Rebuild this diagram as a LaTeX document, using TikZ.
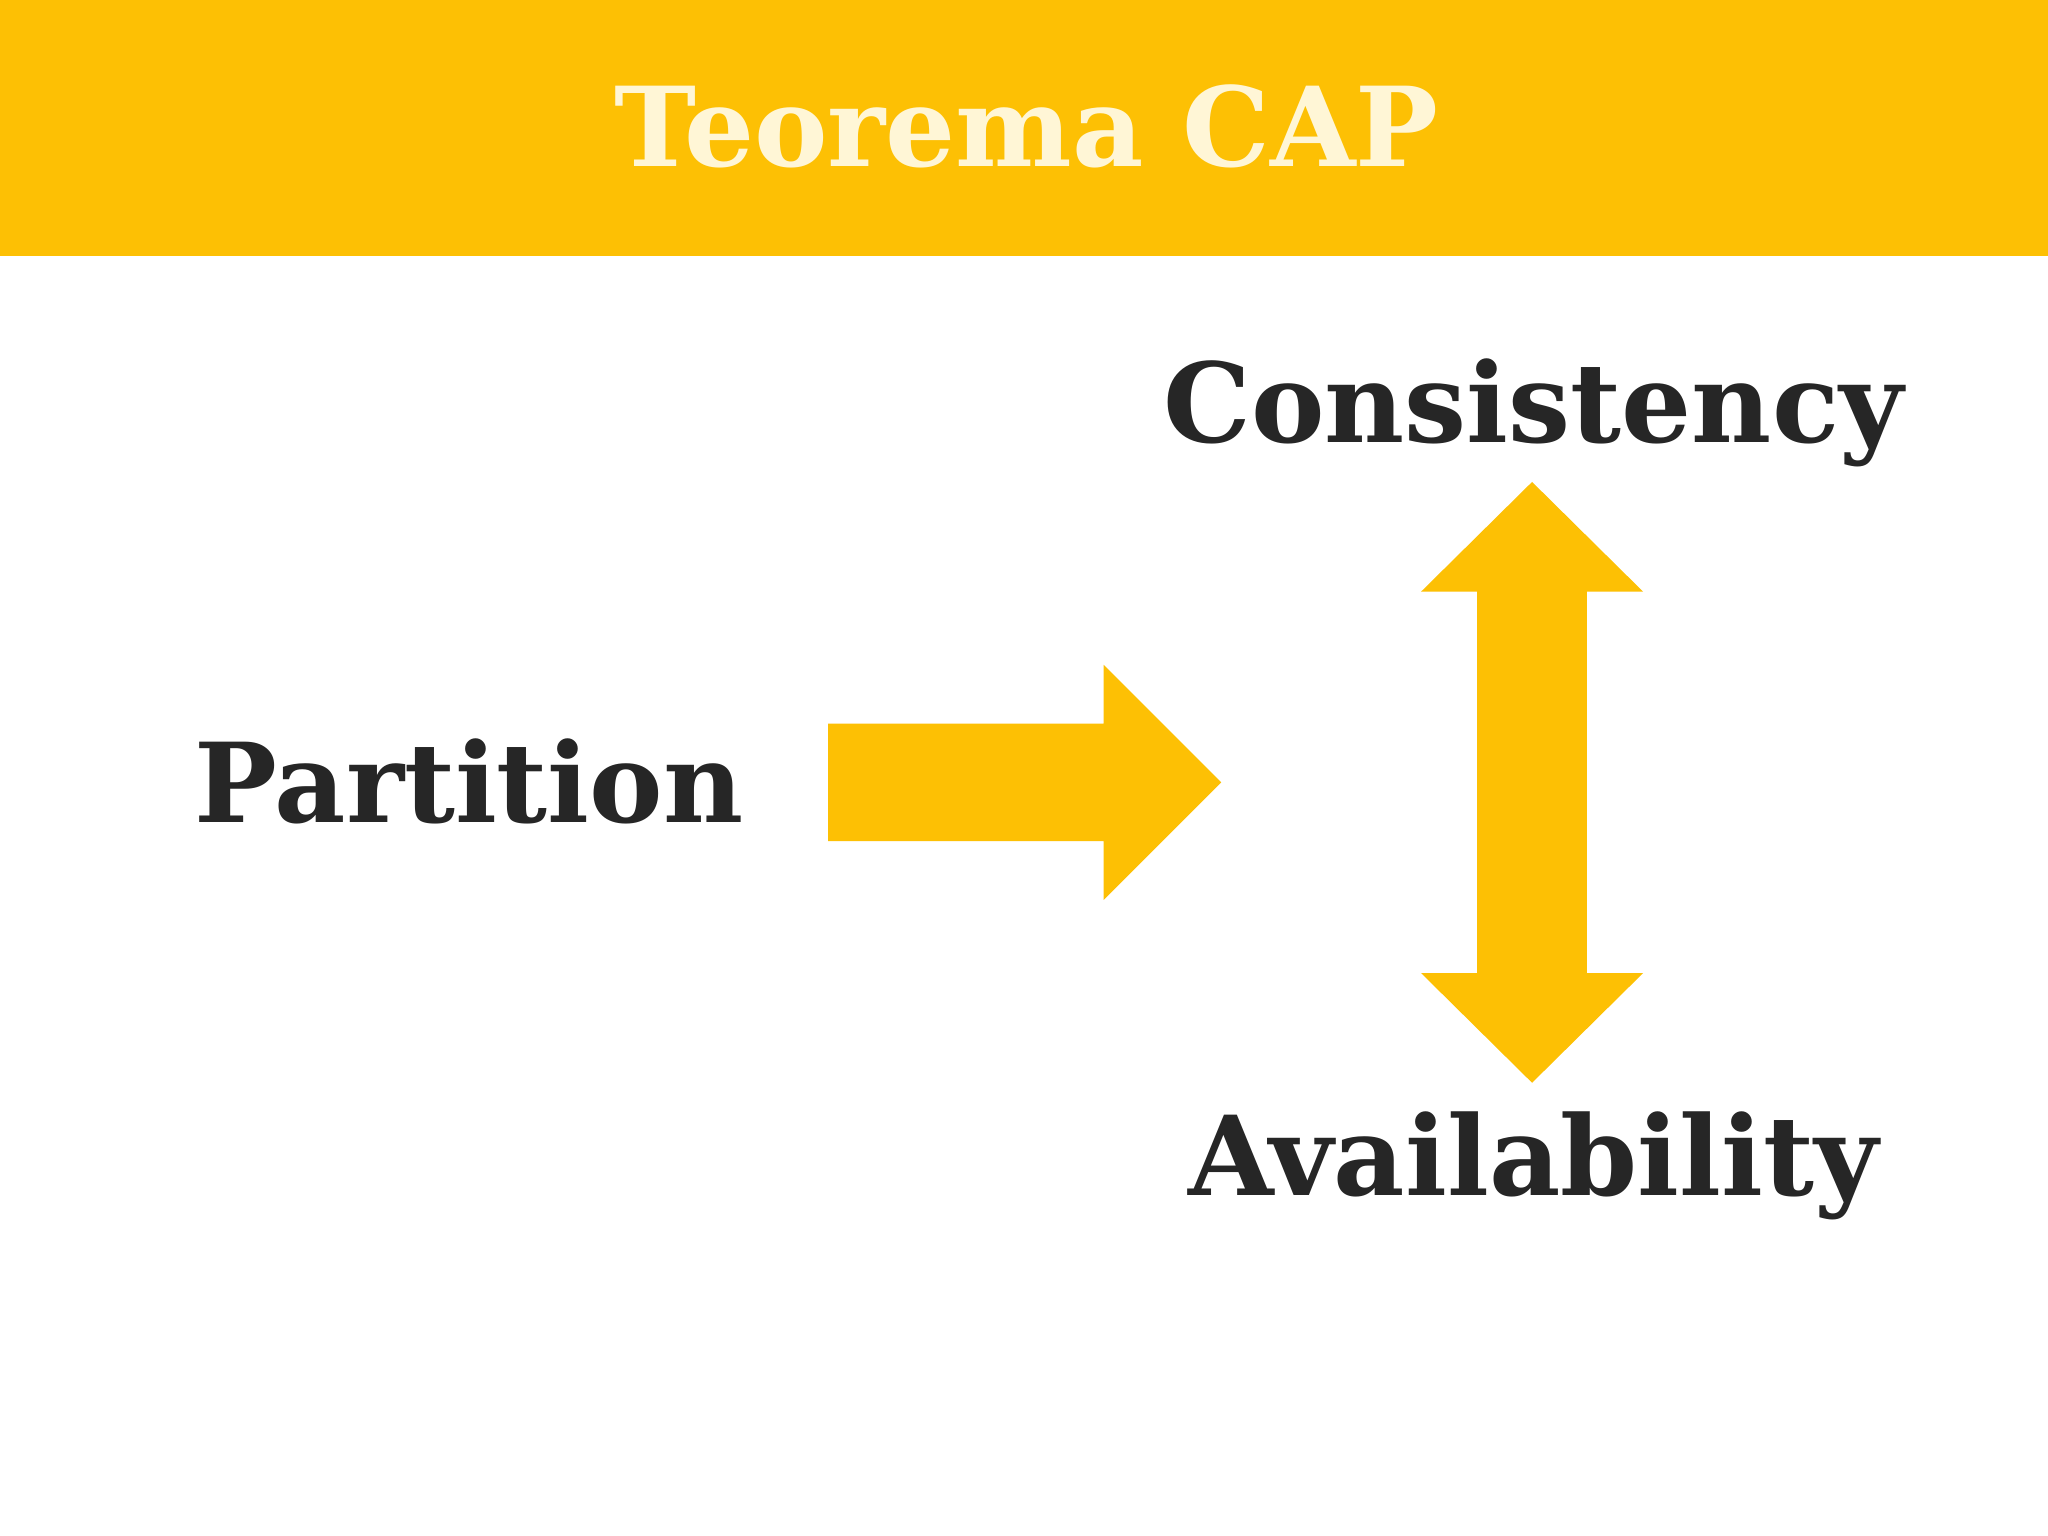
\documentclass[tikz,border=0pt]{standalone}
\usepackage{fontspec}
\setmainfont{DejaVu Serif}
\definecolor{cyel}{HTML}{FDC004}
\definecolor{ccream}{HTML}{FFF6D6}
\definecolor{cdark}{HTML}{262626}
\tikzset{lbl/.style={font=\fontsize{24}{28}\selectfont\bfseries, text=cdark, inner sep=0pt},
arr/.style={fill=cyel, draw=none}}
\begin{document}
\begin{tikzpicture}[x=0.01cm,y=-0.01cm]
\useasboundingbox (0,0) rectangle (1568,1176);
\fill[white] (0,0) rectangle (1568,1176);
\fill[cyel] (0,0) rectangle (1568,196);
\node[font=\fontsize{24}{28}\selectfont\bfseries, text=ccream, inner sep=0pt] (title) at (786,97) {Teorema CAP};
\node[lbl] (part) at (359,598) {Partition};
\node[lbl] (cons) at (1174,316) {Consistency};
\node[lbl] (avail) at (1174,893) {Availability};
\fill[arr] (634,554) -- (845,554) -- (845,509) -- (935,599) -- (845,689) -- (845,644) -- (634,644) -- cycle;
\fill[arr] (1173,369) -- (1258,453) -- (1215,453) -- (1215,745) -- (1258,745) -- (1173,829) -- (1088,745) -- (1131,745) -- (1131,453) -- (1088,453) -- cycle;
\end{tikzpicture}
\end{document}
